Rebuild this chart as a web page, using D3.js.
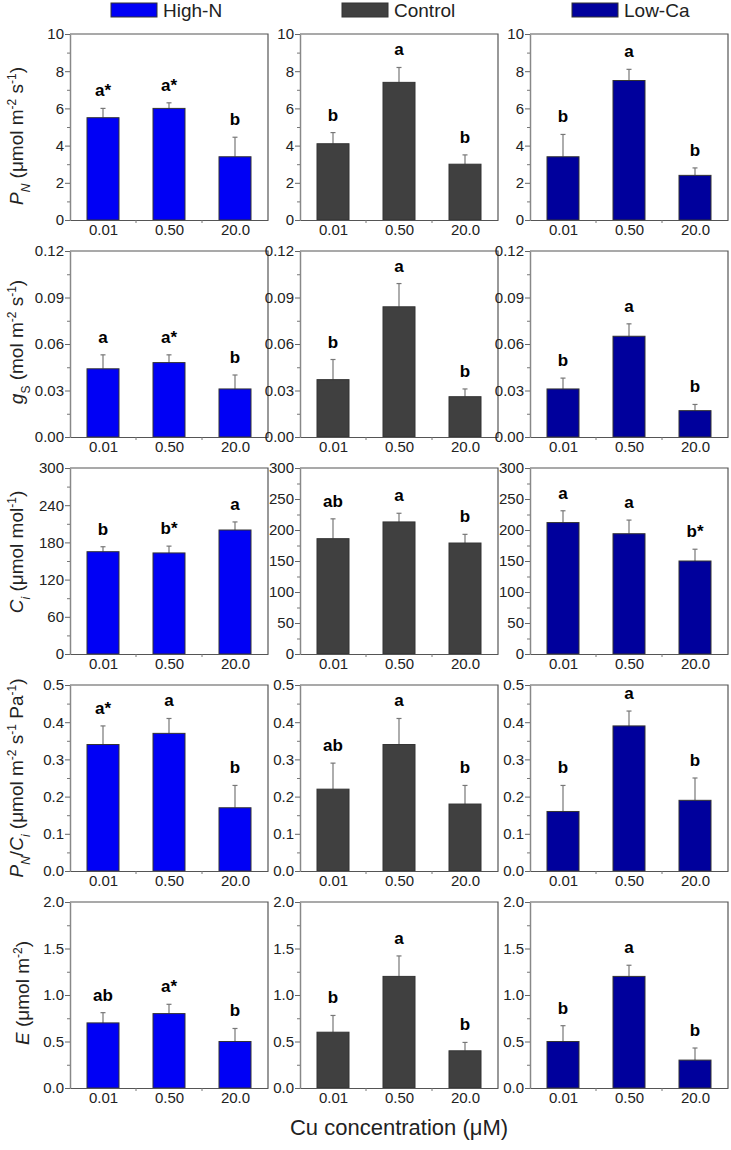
<!DOCTYPE html>
<html>
<head>
<meta charset="utf-8">
<script src="https://cdn.jsdelivr.net/npm/d3@7/dist/d3.min.js"></script>
<style>
  body { margin: 0; background: #fff; }
  svg { font-family: Arial, "Liberation Sans", sans-serif; }
</style>
</head>
<body>
<svg id="chart" width="731" height="1150"></svg>
<script>
// categories and groups
const concentrations = ['0.01', '0.50', '20.0'];
const groups = ['High-N', 'Control', 'Low-Ca'];
const groupColors = ['#0000f5', '#404040', '#00009c'];

// values per row: [group][concentration]
const pnMean = [[5.5, 6.0, 3.4], [4.1, 7.4, 3.0], [3.4, 7.5, 2.4]];
const pnErr  = [[0.5, 0.3, 1.05], [0.6, 0.8, 0.5], [1.2, 0.6, 0.4]];
const pnSig  = [['a*', 'a*', 'b'], ['b', 'a', 'b'], ['b', 'a', 'b']];

const gsMean = [[0.044, 0.048, 0.031], [0.037, 0.084, 0.026], [0.031, 0.065, 0.017]];
const gsErr  = [[0.009, 0.005, 0.009], [0.013, 0.015, 0.005], [0.007, 0.008, 0.004]];
const gsSig  = [['a', 'a*', 'b'], ['b', 'a', 'b'], ['b', 'a', 'b']];

const ciMean = [[165, 163, 200], [186, 213, 179], [212, 194, 150]];
const ciErr  = [[8, 11, 13], [32, 14, 14], [19, 22, 19]];
const ciSig  = [['b', 'b*', 'a'], ['ab', 'a', 'b'], ['a', 'a', 'b*']];

const pnciMean = [[0.34, 0.37, 0.17], [0.22, 0.34, 0.18], [0.16, 0.39, 0.19]];
const pnciErr  = [[0.05, 0.04, 0.06], [0.07, 0.07, 0.05], [0.07, 0.04, 0.06]];
const pnciSig  = [['a*', 'a', 'b'], ['ab', 'a', 'b'], ['b', 'a', 'b']];

const eMean = [[0.70, 0.80, 0.50], [0.60, 1.20, 0.40], [0.50, 1.20, 0.30]];
const eErr  = [[0.11, 0.10, 0.14], [0.18, 0.22, 0.09], [0.17, 0.12, 0.13]];
const eSig  = [['ab', 'a*', 'b'], ['b', 'a', 'b'], ['b', 'a', 'b']];

// y tick values (per row, Ci differs per column)
const pnTicks = [0, 2, 4, 6, 8, 10];
const gsTicks = [0, 0.03, 0.06, 0.09, 0.12];
const ciTicksHighN = [0, 60, 120, 180, 240, 300];
const ciTicks = [0, 50, 100, 150, 200, 250, 300];
const pnciTicks = [0, 0.1, 0.2, 0.3, 0.4, 0.5];
const eTicks = [0, 0.5, 1.0, 1.5, 2.0];

const rows = [
  { mean: pnMean, err: pnErr, sig: pnSig, max: 10, ticks: [pnTicks, pnTicks, pnTicks], fmt: d3.format('d') },
  { mean: gsMean, err: gsErr, sig: gsSig, max: 0.12, ticks: [gsTicks, gsTicks, gsTicks], fmt: d3.format('.2f') },
  { mean: ciMean, err: ciErr, sig: ciSig, max: 300, ticks: [ciTicksHighN, ciTicks, ciTicks], fmt: d3.format('d') },
  { mean: pnciMean, err: pnciErr, sig: pnciSig, max: 0.5, ticks: [pnciTicks, pnciTicks, pnciTicks], fmt: d3.format('.1f') },
  { mean: eMean, err: eErr, sig: eSig, max: 2.0, ticks: [eTicks, eTicks, eTicks], fmt: d3.format('.1f') }
];

// layout
const colLeft = [70, 300, 530];
const rowTop = [34, 251, 468, 685, 902];
const pw = 198, ph = 186;
const barW = 32;

const svg = d3.select('#chart');

const x = d3.scalePoint().domain(concentrations).range([0, pw]).padding(0.5);
const step = x.step();

rows.forEach((row, ri) => {
  groups.forEach((grp, gi) => {
    const g = svg.append('g').attr('transform', `translate(${colLeft[gi]},${rowTop[ri]})`);
    const y = d3.scaleLinear().domain([0, row.max]).range([ph, 0]);
    const ticks = row.ticks[gi];
    const minor = ticks.slice(1).map((t, i) => (t + ticks[i]) / 2);

    // frame top/right
    g.append('path')
      .attr('d', `M0,0H${pw}V${ph}`)
      .attr('fill', 'none').attr('stroke', '#555').attr('stroke-width', 1.2);

    // bars
    const data = concentrations.map((c, i) => ({ c, m: row.mean[gi][i], e: row.err[gi][i], s: row.sig[gi][i] }));
    g.selectAll('line.err').data(data).join('line')
      .attr('class', 'err')
      .attr('x1', d => x(d.c)).attr('x2', d => x(d.c))
      .attr('y1', d => y(d.m)).attr('y2', d => y(d.m + d.e))
      .attr('stroke', '#777').attr('stroke-width', 1.2);
    g.selectAll('line.cap').data(data).join('line')
      .attr('class', 'cap')
      .attr('x1', d => x(d.c) - 2.5).attr('x2', d => x(d.c) + 2.5)
      .attr('y1', d => y(d.m + d.e)).attr('y2', d => y(d.m + d.e))
      .attr('stroke', '#777').attr('stroke-width', 1.2);
    g.selectAll('rect.bar').data(data).join('rect')
      .attr('class', 'bar')
      .attr('x', d => x(d.c) - barW / 2).attr('width', barW)
      .attr('y', d => y(d.m)).attr('height', d => ph - y(d.m))
      .attr('fill', groupColors[gi]).attr('stroke', '#333').attr('stroke-width', 1);
    g.selectAll('text.sig').data(data).join('text')
      .attr('class', 'sig')
      .attr('x', d => x(d.c)).attr('y', d => y(d.m + d.e) - 12)
      .attr('text-anchor', 'middle')
      .attr('font-size', 17).attr('font-weight', 'bold')
      .text(d => d.s);

    // y axis
    const ya = g.append('g')
      .call(d3.axisLeft(y).tickValues(ticks).tickFormat(row.fmt).tickSize(5).tickSizeOuter(0));
    ya.select('.domain').attr('stroke', '#888').attr('stroke-width', 1.5);
    ya.selectAll('.tick line').attr('stroke', '#666');
    ya.selectAll('.tick text').attr('font-size', 15).attr('fill', '#222').attr('x', -6)
      .attr('font-family', 'Arial, "Liberation Sans", sans-serif');
    g.append('g')
      .call(d3.axisLeft(y).tickValues(minor).tickFormat('').tickSize(3).tickSizeOuter(0))
      .call(a => a.select('.domain').remove())
      .selectAll('.tick line').attr('stroke', '#777');

    // x axis
    const xa = g.append('g').attr('transform', `translate(0,${ph})`)
      .call(d3.axisBottom(x).tickSize(0).tickPadding(4));
    xa.select('.domain').attr('stroke', '#555').attr('stroke-width', 1.2);
    xa.selectAll('.tick text').attr('font-size', 15).attr('fill', '#222')
      .attr('font-family', 'Arial, "Liberation Sans", sans-serif');
    g.append('g').attr('transform', `translate(0,${ph})`)
      .selectAll('line').data([step, 2 * step]).join('line')
      .attr('x1', d => d).attr('x2', d => d).attr('y1', 0).attr('y2', 3)
      .attr('stroke', '#777');
  });
});

// y axis titles
const labelCenterY = [136, 342, 552, 778, 993];
const labelBaseX = [23, 23, 23, 23, 29];
function addLabel(ri, build) {
  const t = svg.append('text')
    .attr('transform', `translate(${labelBaseX[ri]},${labelCenterY[ri]}) rotate(-90)`)
    .attr('text-anchor', 'middle')
    .attr('font-size', 19).attr('fill', '#222');
  build(t);
}
function sup(t, s) { t.append('tspan').attr('baseline-shift', 'super').attr('font-size', 12).text(s); }
function sub(t, s, italic) {
  t.append('tspan').attr('baseline-shift', 'sub').attr('font-size', 12)
    .attr('font-style', italic ? 'italic' : 'normal').text(s);
}
function it(t, s) { t.append('tspan').attr('font-style', 'italic').text(s); }
function tx(t, s) { t.append('tspan').text(s); }

addLabel(0, t => { it(t, 'P'); sub(t, 'N', true); tx(t, ' (μmol m'); sup(t, '-2'); tx(t, ' s'); sup(t, '-1'); tx(t, ')'); });
addLabel(1, t => { it(t, 'g'); sub(t, 'S', false); tx(t, ' (mol m'); sup(t, '-2'); tx(t, ' s'); sup(t, '-1'); tx(t, ')'); });
addLabel(2, t => { it(t, 'C'); sub(t, 'i', true); tx(t, ' (μmol mol'); sup(t, '-1'); tx(t, ')'); });
addLabel(3, t => { it(t, 'P'); sub(t, 'N', true); tx(t, '/'); it(t, 'C'); sub(t, 'i', true); tx(t, ' (μmol m'); sup(t, '-2'); tx(t, ' s'); sup(t, '-1'); tx(t, ' Pa'); sup(t, '-1'); tx(t, ')'); });
addLabel(4, t => { it(t, 'E'); tx(t, ' (μmol m'); sup(t, '-2'); tx(t, ')'); });

// legend
const legendX = [111, 342, 572];
groups.forEach((grp, gi) => {
  svg.append('rect')
    .attr('x', legendX[gi]).attr('y', 3).attr('width', 46).attr('height', 14)
    .attr('fill', groupColors[gi]).attr('stroke', '#333').attr('stroke-width', 1);
  svg.append('text')
    .attr('x', legendX[gi] + 52).attr('y', 17)
    .attr('font-size', 19).attr('fill', '#222')
    .text(grp);
});

// x axis title
svg.append('text')
  .attr('x', 399).attr('y', 1135)
  .attr('text-anchor', 'middle')
  .attr('font-size', 22).attr('fill', '#222')
  .text('Cu concentration (μM)');
</script>
</body>
</html>
